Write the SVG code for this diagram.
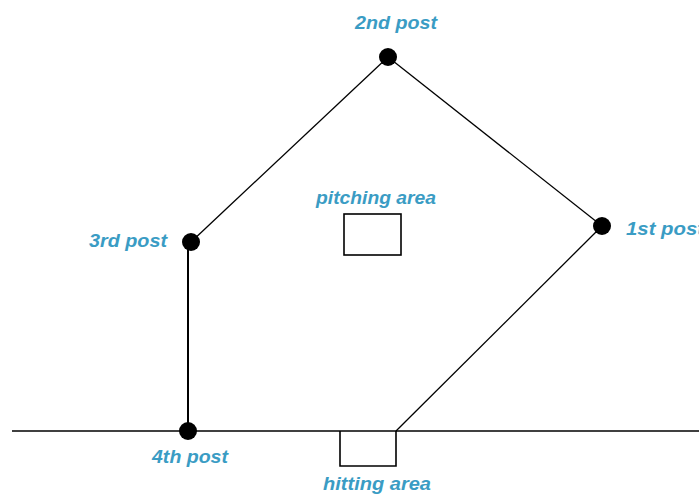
<svg xmlns="http://www.w3.org/2000/svg" width="699" height="495" viewBox="0 0 699 495">
<style>
.lbl{font-family:"Liberation Sans",Arial,sans-serif;font-weight:bold;font-style:italic;font-size:18px;fill:#3a9cc4}
.ln{stroke:#000;stroke-width:1.3;fill:none}
.box{stroke:#000;stroke-width:1.6;fill:#fff}
.dot{fill:#000}
</style>
<rect width="699" height="495" fill="#fff"/>
<g id="connectors">
<line class="ln" x1="12" y1="431" x2="699" y2="431"/>
<line class="ln" x1="388" y1="57" x2="602" y2="226"/>
<line class="ln" x1="388" y1="57" x2="191" y2="242"/>
<line class="ln" x1="188" y1="242" x2="188" y2="431" style="stroke-width:2"/>
<line class="ln" x1="602" y1="226" x2="396" y2="431"/>
</g>
<g id="hitting-area">
<path class="ln" d="M340,431 V466 H396 V431" style="stroke-width:1.6"/>
<text class="lbl" x="323" y="490" textLength="108" lengthAdjust="spacingAndGlyphs">hitting area</text>
</g>
<g id="pitching-area">
<rect class="box" x="344" y="214" width="57" height="41"/>
<text class="lbl" x="316" y="204" textLength="120" lengthAdjust="spacingAndGlyphs">pitching area</text>
</g>
<g id="post2">
<circle class="dot" cx="388" cy="57" r="9"/>
<text class="lbl" x="355" y="29" textLength="82" lengthAdjust="spacingAndGlyphs">2nd post</text>
</g>
<g id="post1">
<circle class="dot" cx="602" cy="226" r="9"/>
<text class="lbl" x="626" y="235" textLength="78" lengthAdjust="spacingAndGlyphs">1st post</text>
</g>
<g id="post3">
<circle class="dot" cx="191" cy="242" r="9"/>
<text class="lbl" x="89" y="247" textLength="78" lengthAdjust="spacingAndGlyphs">3rd post</text>
</g>
<g id="post4">
<circle class="dot" cx="188" cy="431" r="9"/>
<text class="lbl" x="152" y="463" textLength="76" lengthAdjust="spacingAndGlyphs">4th post</text>
</g>
</svg>
